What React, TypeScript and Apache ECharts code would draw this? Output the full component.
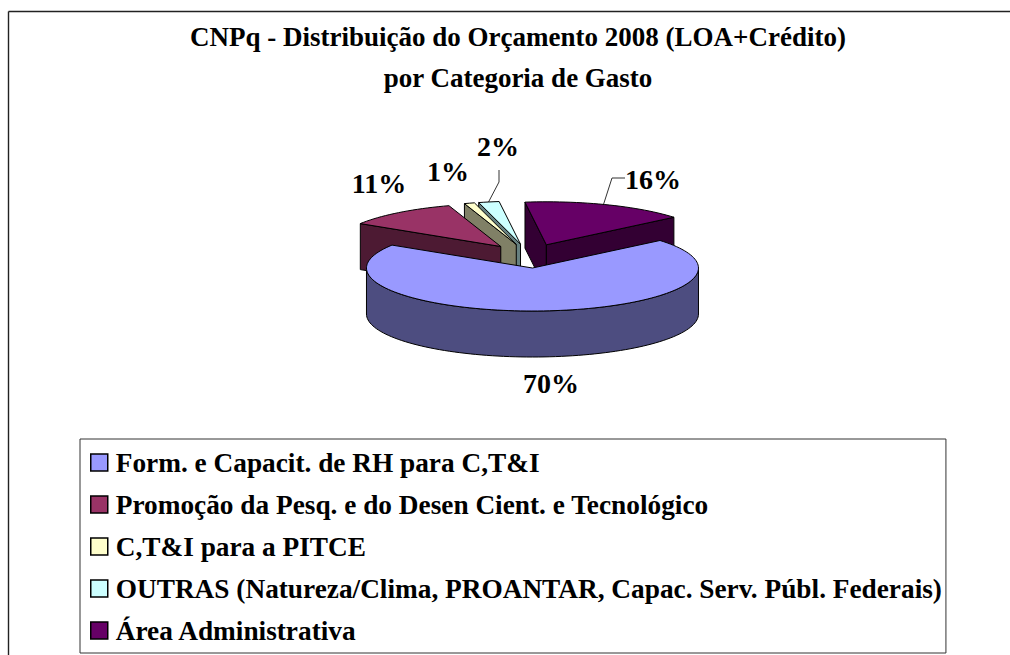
import React, { useEffect, useRef } from "react";
import * as echarts from "echarts";

const titleLines = ["CNPq - Distribuição do Orçamento 2008 (LOA+Crédito)", "por Categoria de Gasto"];
const categories = [
  "Form. e Capacit. de RH para C,T&I",
  "Promoção da Pesq. e do Desen Cient. e Tecnológico",
  "C,T&I para a PITCE",
  "OUTRAS (Natureza/Clima, PROANTAR, Capac. Serv. Públ. Federais)",
  "Área Administrativa",
];
const values = [70, 11, 1, 2, 16];
const topColors = ["#9999FF", "#993366", "#FFFFCC", "#CCFFFF", "#660066"];
const sideColors = ["#4D4D80", "#4D1A33", "#808066", "#668080", "#330033"];
const stacking = [5, 3, 2, 1, 4];
const startAngle = 39.8;
const FONT = "'Liberation Serif', 'Times New Roman', serif";
const CX = 529.4, CY = 256, RX = 166, RY = 43, DEPTH = 46, EXPLODE = 0.28;
const rad = (d: number) => (d * Math.PI) / 180;
const total = values.reduce((a, b) => a + b, 0);

function renderSlice(idx: number) {
  const before = values.slice(0, idx).reduce((a, b) => a + b, 0);
  const s = startAngle - (before / total) * 360;
  const e = s - (values[idx] / total) * 360;
  const mid = (s + e) / 2;
  const ax = CX + EXPLODE * RX * Math.cos(rad(mid));
  const ay = CY - EXPLODE * RY * Math.sin(rad(mid));
  const pt = (a: number, dz = 0) => [ax + RX * Math.cos(rad(a)), ay - RY * Math.sin(rad(a)) + dz];
  const style = (fill: string) => ({ fill, stroke: "#000", lineWidth: 1, lineJoin: "round" });
  const arc = (a: number, b: number, dz = 0) => {
    const n = Math.max(2, Math.ceil(Math.abs(a - b) / 2));
    const out: number[][] = [];
    for (let i = 0; i <= n; i++) out.push(pt(a + ((b - a) * i) / n, dz));
    return out;
  };
  const children: any[] = [];
  const side = sideColors[idx];
  const radial = (a: number) => ({
    type: "polygon",
    shape: { points: [[ax, ay], pt(a), pt(a, DEPTH), [ax, ay + DEPTH]] },
    style: style(side),
  });
  if (Math.cos(rad(s)) < 0) children.push(radial(s));
  if (Math.cos(rad(e)) > 0) children.push(radial(e));
  const hi = Math.min(s, 0), lo = Math.max(e, -180);
  if (hi > lo) {
    children.push({
      type: "polygon",
      shape: { points: [...arc(hi, lo), ...arc(lo, hi, DEPTH)] },
      style: style(side),
    });
  }
  children.push({
    type: "polygon",
    shape: { points: [[ax, ay], ...arc(s, e)] },
    style: style(topColors[idx]),
  });
  return { type: "group", children };
}

const labelTexts = values.map((v) => `${v}%`);
const labelPos = [[551, 383], [379, 183], [448, 171], [498, 146], [653, 179]];

export default function App() {
  const ref = useRef<HTMLDivElement>(null);
  useEffect(() => {
    const chart = echarts.init(ref.current!, null, { renderer: "svg" });
    chart.setOption({
      animation: false,
      backgroundColor: "#fff",
      title: {
        text: titleLines.join("\n"),
        left: 513,
        top: 11,
        textAlign: "center",
        textStyle: { fontFamily: FONT, fontWeight: "bold", fontSize: 27, lineHeight: 41, color: "#000" },
      },
      legend: {
        orient: "vertical",
        left: 80,
        top: 439,
        height: 400,
        padding: [10, 4, 9, 10],
        itemGap: 15,
        itemWidth: 17,
        itemHeight: 26,
        borderColor: "#333",
        borderWidth: 1,
        backgroundColor: "#fff",
        selectedMode: false,
        textStyle: { fontFamily: FONT, fontWeight: "bold", fontSize: 27.3, color: "#000", padding: [0, 0, 0, 3] },
        data: categories.map((name, i) => ({
          name,
          icon: "path://M0 4.5H17V21.5H0Z",
          itemStyle: { color: topColors[i], borderColor: "#000", borderWidth: 1.5 },
        })),
      },
      graphic: [
        { type: "line", shape: { x1: 8.5, y1: 11.5, x2: 1010, y2: 11.5 }, style: { stroke: "#222", lineWidth: 1.4 } },
        { type: "line", shape: { x1: 8.5, y1: 11.5, x2: 8.5, y2: 655 }, style: { stroke: "#222", lineWidth: 1.4 } },
        { type: "polyline", shape: { points: [[603, 206], [612, 178], [625, 178]] }, style: { stroke: "#333", lineWidth: 1, fill: "none" } },
        { type: "polyline", shape: { points: [[488, 203], [499, 182], [499, 170]] }, style: { stroke: "#333", lineWidth: 1, fill: "none" } },
        ...labelTexts.map((t, i) => ({
          type: "text",
          x: labelPos[i][0],
          y: labelPos[i][1],
          style: { text: t, fontFamily: FONT, fontWeight: "bold", fontSize: 28, fill: "#000", align: "center", verticalAlign: "middle" },
        })),
      ],
      series: categories.map((name, i) => ({
        type: "custom",
        name,
        coordinateSystem: "none",
        z: stacking[i],
        silent: true,
        data: [[values[i]]],
        renderItem: () => renderSlice(i),
      })),
    });
    return () => chart.dispose();
  }, []);
  return <div ref={ref} style={{ position: "absolute", left: 0, top: 0, width: 1010, height: 655 }} />;
}
